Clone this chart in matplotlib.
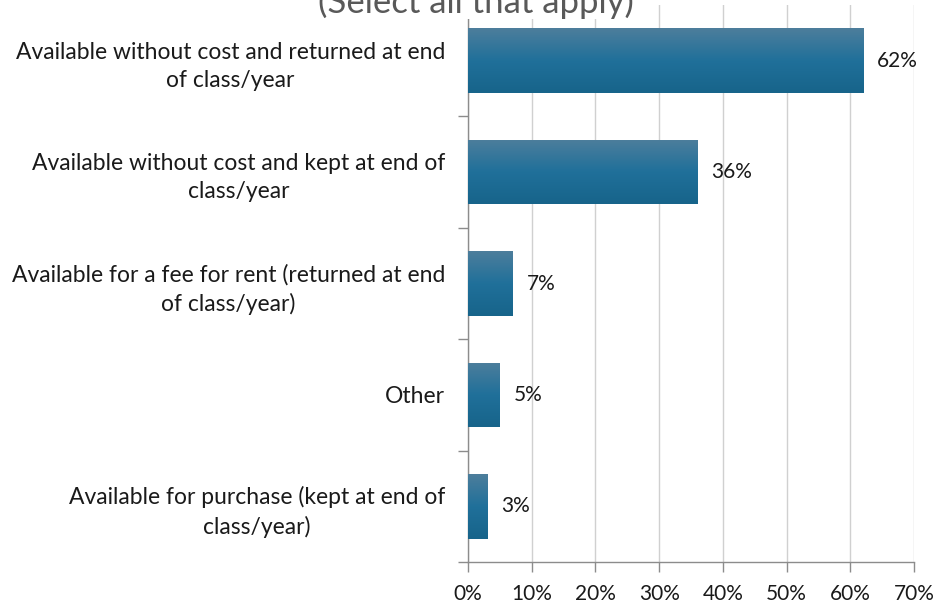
import matplotlib
matplotlib.use("Agg")
import matplotlib.pyplot as plt
import numpy as np
from matplotlib.colors import LinearSegmentedColormap
from matplotlib.ticker import FixedLocator, PercentFormatter

categories = [
    "Available without cost and returned at end\nof class/year",
    "Available without cost and kept at end of\nclass/year",
    "Available for a fee for rent (returned at end\nof class/year)",
    "Other",
    "Available for purchase (kept at end of\nclass/year)",
]
values = [62, 36, 7, 5, 3]
value_labels = ["62%", "36%", "7%", "5%", "3%"]
xticks = [0, 10, 20, 30, 40, 50, 60, 70]
title = "(Select all that apply)"

plt.rcParams['font.family'] = ['Lato', 'DejaVu Sans']

W, H = 938, 606
fig = plt.figure(figsize=(W / 100, H / 100), dpi=100)
ax = fig.add_axes([468 / W, 1 - 562 / H, (914 - 468) / W, (562 - 5) / H])

n = len(categories)
ypos = np.arange(n)
bars = ax.barh(ypos, values, height=0.58, color="none", edgecolor="none", zorder=3)
ax.set_ylim(n - 0.5, -0.5)
ax.set_xlim(0, 70)

cmap = LinearSegmentedColormap.from_list(
    "g", [(0, "#4d7e9c"), (0.5, "#20709a"), (1.0, "#17648a")])
grad = np.linspace(0, 1, 256).reshape(-1, 1)
for p in bars.patches:
    x0, y0 = p.get_x(), p.get_y()
    w, h = p.get_width(), p.get_height()
    im = ax.imshow(grad, cmap=cmap, aspect="auto",
                   extent=(x0, x0 + w, y0 + h, y0), origin="upper", zorder=3)
    im.set_clip_path(p)

for v, lab, y in zip(values, value_labels, ypos):
    ax.annotate(lab, (v, y), xytext=(10, 0), textcoords="offset points",
                va="center", ha="left", fontsize=15, color="#1a1a1a")

ax.set_yticks(ypos)
ax.set_yticklabels(categories, fontsize=16.5, color="#1a1a1a")
for lbl in ax.get_yticklabels():
    lbl.set_multialignment("center")
    lbl.set_linespacing(1.42)
ax.yaxis.set_minor_locator(FixedLocator(np.arange(n + 1) - 0.5))
ax.tick_params(axis="y", which="major", length=0, pad=16.5)
ax.tick_params(axis="y", which="minor", length=7, color="#8c8c8c", width=1)

ax.set_xticks(xticks)
ax.xaxis.set_major_formatter(PercentFormatter(decimals=0))
ax.tick_params(axis="x", which="major", length=7, color="#8c8c8c", width=1,
               labelsize=15, labelcolor="#1a1a1a", pad=9)

ax.grid(axis="x", color="#d0d0d0", linewidth=1, zorder=0)
ax.set_axisbelow(True)
for s in ["top", "right"]:
    ax.spines[s].set_visible(False)
for s in ["left", "bottom"]:
    ax.spines[s].set_color("#8c8c8c")
    ax.spines[s].set_linewidth(1)

fig.text(476 / W, 1 - 13 / H, title, ha="center", va="baseline", fontsize=25,
         color="#595959",
         bbox=dict(facecolor="white", edgecolor="none", pad=0), zorder=5)

fig.savefig("out.png", dpi=100)
